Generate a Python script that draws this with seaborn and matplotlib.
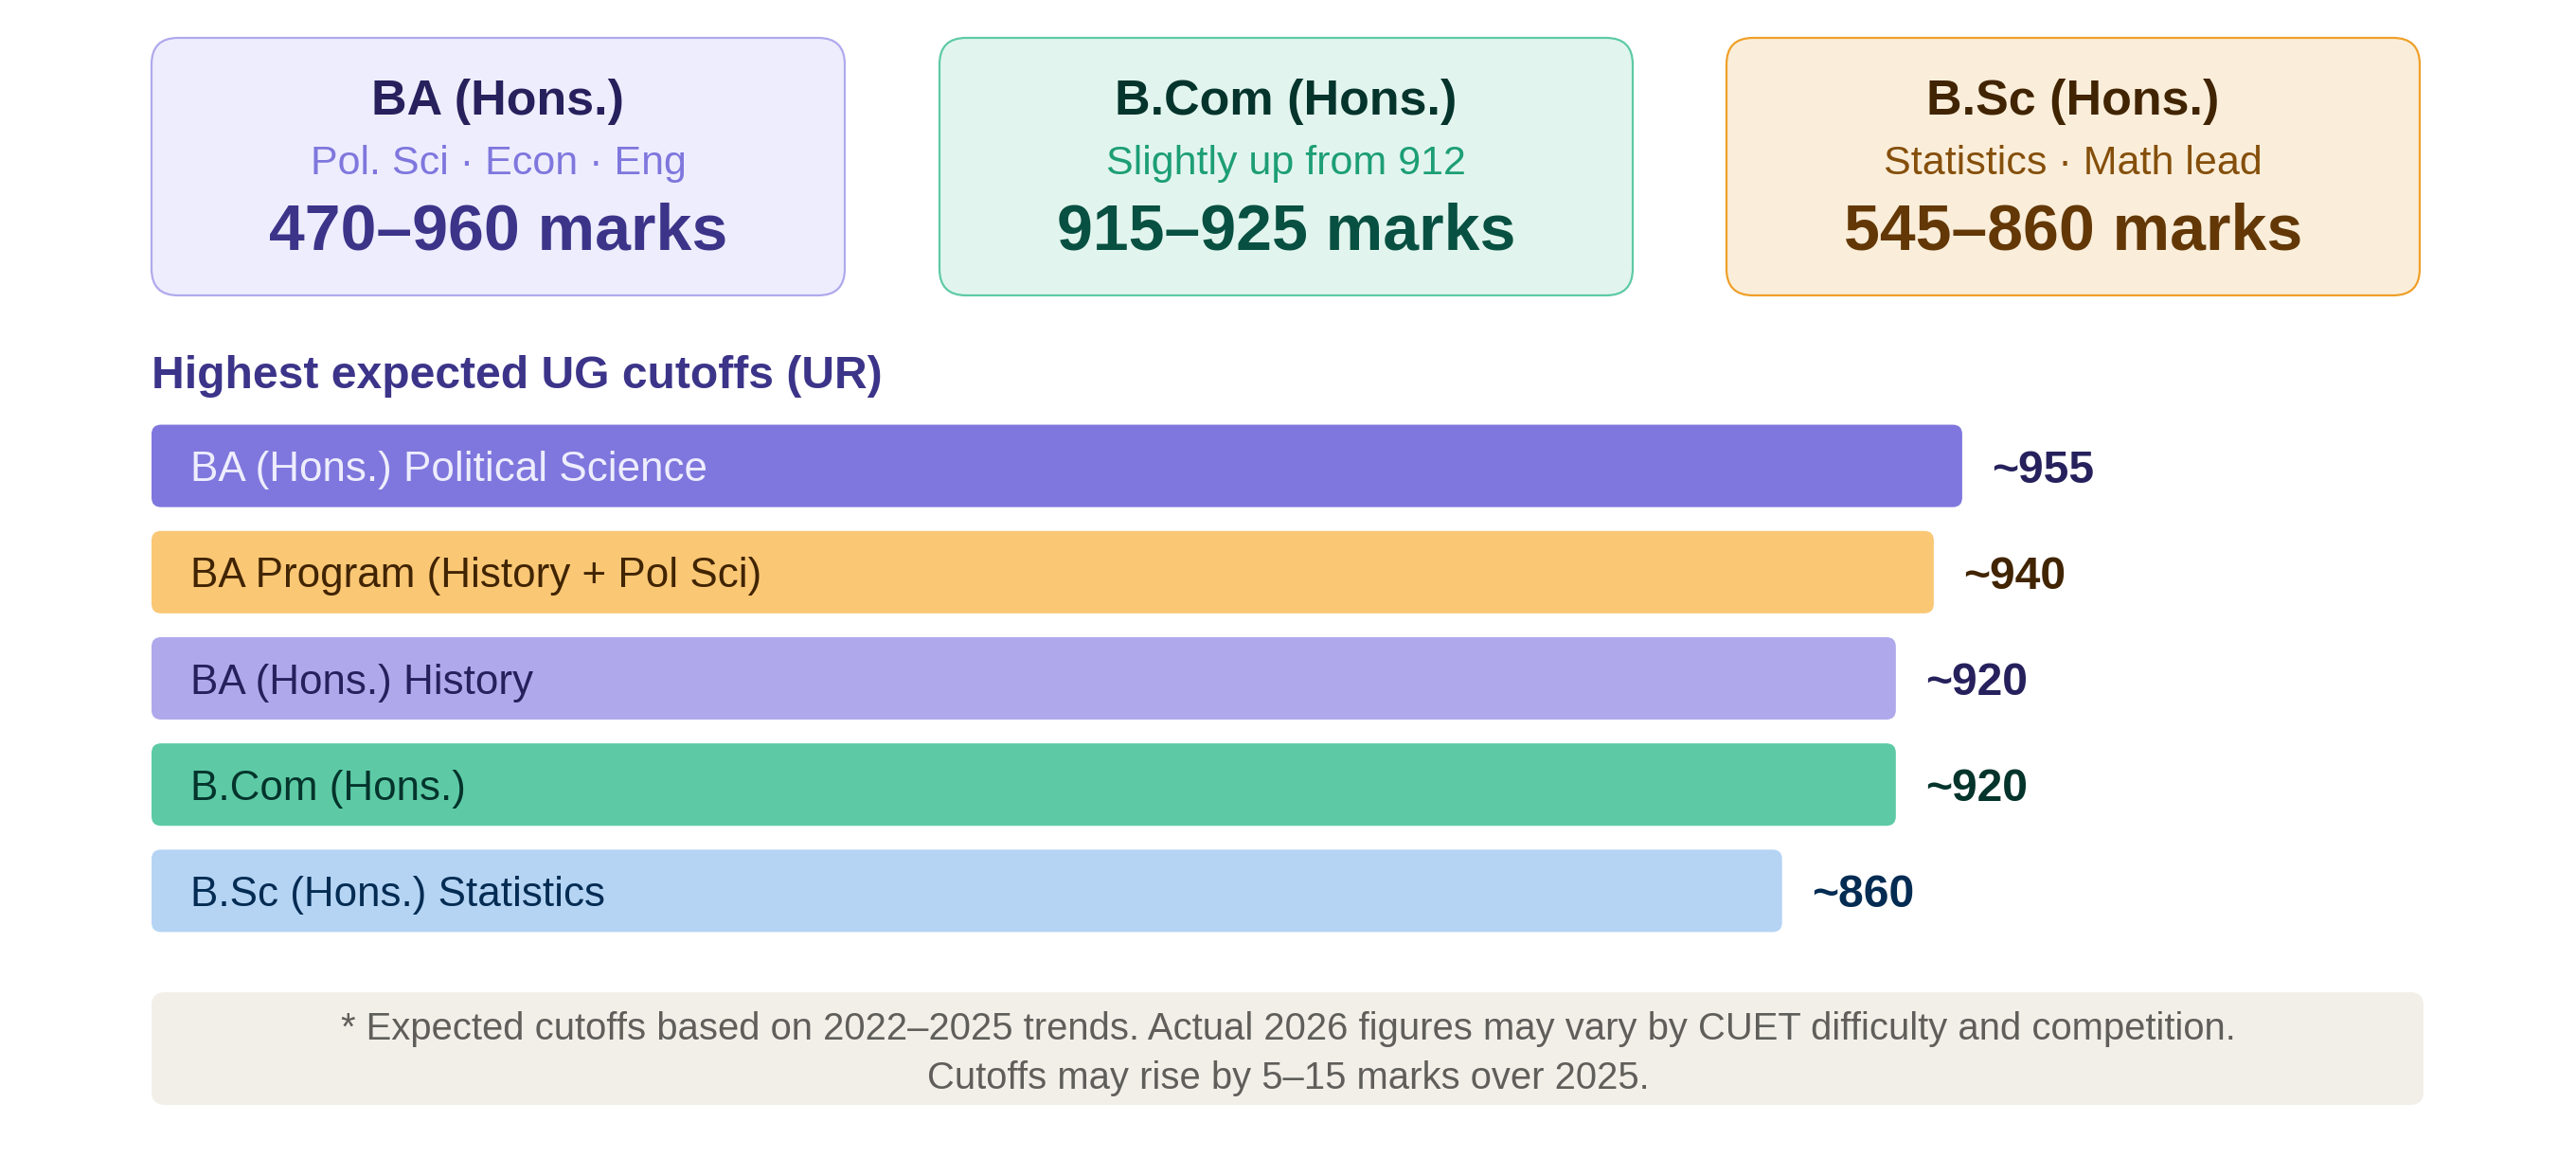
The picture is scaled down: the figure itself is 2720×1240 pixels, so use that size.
import matplotlib
matplotlib.use("Agg")
import matplotlib.pyplot as plt
from matplotlib.patches import FancyBboxPatch
import seaborn as sns
import pandas as pd

# ---------------- data ----------------
card_titles = ["BA (Hons.)", "B.Com (Hons.)", "B.Sc (Hons.)"]
card_subtitles = ["Pol. Sci · Econ · Eng", "Slightly up from 912", "Statistics · Math lead"]
card_ranges = ["470–960 marks", "915–925 marks", "545–860 marks"]

section_title = "Highest expected UG cutoffs (UR)"
categories = [
    "BA (Hons.) Political Science",
    "BA Program (History + Pol Sci)",
    "BA (Hons.) History",
    "B.Com (Hons.)",
    "B.Sc (Hons.) Statistics",
]
cutoffs = [955, 940, 920, 920, 860]
value_labels = ["~955", "~940", "~920", "~920", "~860"]

footnote_lines = [
    "* Expected cutoffs based on 2022–2025 trends. Actual 2026 figures may vary by CUET difficulty and competition.",
    "Cutoffs may rise by 5–15 marks over 2025.",
]

# ---------------- styles ----------------
card_bg = ["#EEEDFE", "#E1F5EE", "#FAEEDA"]
card_edge = ["#AFA9EC", "#5DCAA5", "#EF9F27"]
card_title_c = ["#26215C", "#04342C", "#412402"]
card_sub_c = ["#7F77DD", "#1D9E75", "#854F0B"]
card_num_c = ["#3C3489", "#085041", "#633806"]

bar_colors = ["#7F77DD", "#FAC775", "#AFA9EC", "#5DCAA5", "#B5D4F4"]
bar_text_c = ["#EEEDFE", "#412402", "#26215C", "#04342C", "#042C53"]
value_c = ["#26215C", "#412402", "#26215C", "#04342C", "#042C53"]

W, H, DPI = 2720, 1240, 200


def fs(px):
    return px * 72.0 / DPI


sns.set_theme(style="white")
plt.rcParams["font.family"] = ["Liberation Sans", "DejaVu Sans"]

fig = plt.figure(figsize=(W / DPI, H / DPI), dpi=DPI)
fig.patch.set_facecolor("white")

# overlay axes in pixel coordinates
ov = fig.add_axes([0, 0, 1, 1], zorder=0)
ov.set_xlim(0, W)
ov.set_ylim(H, 0)
ov.axis("off")

# cards
card_lefts = [160, 992, 1823]
card_w, card_top, card_h = 732, 40, 272
for i in range(3):
    x0 = card_lefts[i]
    ov.add_patch(FancyBboxPatch((x0, card_top), card_w, card_h,
                                boxstyle="round,pad=0,rounding_size=28",
                                facecolor=card_bg[i], edgecolor=card_edge[i],
                                linewidth=fs(2.2)))
    cx = x0 + card_w / 2
    ov.text(cx, 121, card_titles[i], ha="center", va="baseline",
            fontsize=fs(52), fontweight="bold", color=card_title_c[i])
    ov.text(cx, 184, card_subtitles[i], ha="center", va="baseline",
            fontsize=fs(43), color=card_sub_c[i])
    ov.text(cx, 264, card_ranges[i], ha="center", va="baseline",
            fontsize=fs(68), fontweight="bold", color=card_num_c[i])

# section title
ov.text(160, 410, section_title, ha="left", va="baseline",
        fontsize=fs(48), fontweight="bold", color="#3C3489")

# footnote
ov.add_patch(FancyBboxPatch((160, 1048), 2399, 119,
                            boxstyle="round,pad=0,rounding_size=14",
                            facecolor="#F1EFE8", edgecolor="none"))
ov.text(W / 2, 1098, footnote_lines[0], ha="center", va="baseline",
        fontsize=fs(40), color="#5F5E5A")
ov.text(W / 2, 1150, footnote_lines[1], ha="center", va="baseline",
        fontsize=fs(40), color="#5F5E5A")

# ---------------- bar chart ----------------
ax_left, ax_width = 160, 2400
ax_top, ax_bottom = 436, 997
ax = fig.add_axes([ax_left / W, (H - ax_bottom) / H, ax_width / W, (ax_bottom - ax_top) / H],
                  zorder=1)
ax.patch.set_alpha(0)

df = pd.DataFrame({"course": categories, "cutoff": cutoffs})
sns.barplot(data=df, x="cutoff", y="course", hue="course", palette=bar_colors,
            legend=False, width=0.776, orient="h", ax=ax, saturation=1)

px_per_unit = 2.002
ax.set_xlim(0, ax_width / px_per_unit)
ax.set_ylim(len(categories) - 0.5, -0.5)
ax.axis("off")

y_px_per_unit = (ax_bottom - ax_top) / len(categories)
r_px = 10
r_x = r_px / px_per_unit
m_aspect = (r_px / y_px_per_unit) / r_x

for p in list(ax.patches):
    x, y, w, h = p.get_x(), p.get_y(), p.get_width(), p.get_height()
    fc = p.get_facecolor()
    p.remove()
    ax.add_patch(FancyBboxPatch((x, y), w, h,
                                boxstyle=f"round,pad=0,rounding_size={r_x}",
                                mutation_aspect=m_aspect,
                                facecolor=fc, edgecolor="none"))

for i, (cat, v, lab) in enumerate(zip(categories, cutoffs, value_labels)):
    ax.annotate(cat, xy=(0, i), xytext=(41, -16), textcoords="offset pixels",
                ha="left", va="baseline", fontsize=fs(44), color=bar_text_c[i])
    ax.annotate(lab, xy=(v, i), xytext=(31, -17.5), textcoords="offset pixels",
                ha="left", va="baseline", fontsize=fs(48), fontweight="bold",
                color=value_c[i])

fig.savefig("out.png", dpi=DPI, facecolor="white")
